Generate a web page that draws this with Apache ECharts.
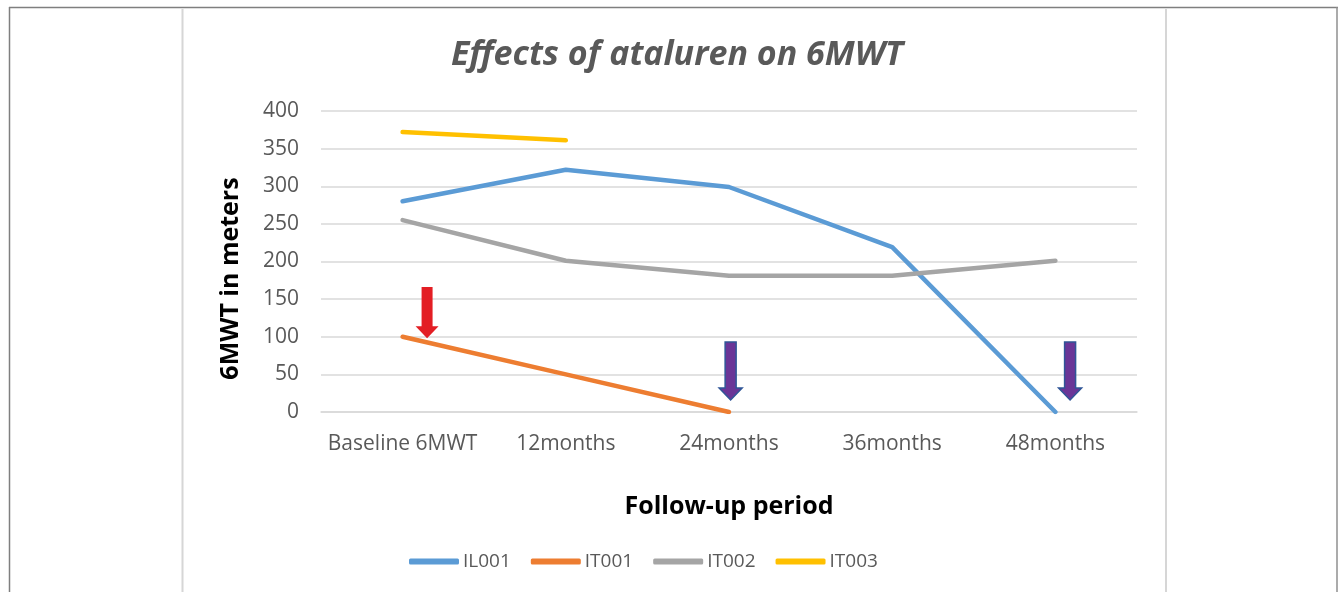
<!DOCTYPE html>
<html>
<head>
<meta charset="utf-8">
<title>Effects of ataluren on 6MWT</title>
<script src="https://cdn.jsdelivr.net/npm/echarts@6/dist/echarts.min.js"></script>
<style>
  html, body { margin: 0; padding: 0; background: #fff; }
  #chart { width: 1338px; height: 592px; }
</style>
</head>
<body>
<div id="chart"></div>
<script>
// data
const periods = ['Baseline 6MWT', '12months', '24months', '36months', '48months'];
const il001 = [280, 322, 299, 219, 0];
const it001 = [100, 50, 0, null, null];
const it002 = [255, 201, 181, 181, 201];
const it003 = [372, 361, null, null, null];
const seriesNames = ['IL001', 'IT001', 'IT002', 'IT003'];

// annotation arrows: [category index, tail value, tip value, shift within band]
const arrows = [
    [0, 166, 98, 0.15],
    [2, 93, 16, 0.01],
    [4, 93, 16, 0.09],
];
const arrowColors = ['#e31e24', '#6a3597', '#6a3597'];

const COLORS = ['#5b9bd5', '#ed7d31', '#a5a5a5', '#ffc000'];
const FONT = '"Open Sans", "DejaVu Sans", sans-serif';

const chart = echarts.init(document.getElementById('chart'), null, { renderer: 'canvas' });

function lineSeries(name, data, color) {
    return {
        type: 'line',
        name: name,
        data: data,
        symbol: 'none',
        connectNulls: false,
        lineStyle: { color: color, width: 4.5, cap: 'round', join: 'round' },
        itemStyle: { color: color },
        emphasis: { disabled: true },
        z: 3,
    };
}

function renderArrow(params, api) {
    const idx = api.value(0);
    const tail = api.coord([idx, api.value(1)]);
    const tip = api.coord([idx, api.value(2)]);
    const band = api.size([1, 0])[0];
    const x = tail[0] + api.value(3) * band;
    const shaft = 5.5, head = 11.5, headH = 12;
    const y0 = tail[1], y1 = tip[1], yh = y1 - headH;
    const color = arrowColors[params.dataIndex];
    return {
        type: 'polygon',
        shape: {
            points: [
                [x - shaft, y0], [x + shaft, y0], [x + shaft, yh], [x + head, yh],
                [x, y1], [x - head, yh], [x - shaft, yh],
            ],
        },
        style: {
            fill: color,
            stroke: params.dataIndex === 0 ? color : '#2f5597',
            lineWidth: params.dataIndex === 0 ? 0 : 1.5,
        },
        z2: 10,
    };
}

const frame = [
    { type: 'line', shape: { x1: 9, y1: 7.5, x2: 1338, y2: 7.5 }, style: { stroke: '#7f7f7f', lineWidth: 1.5 } },
    { type: 'line', shape: { x1: 9.5, y1: 7, x2: 9.5, y2: 592 }, style: { stroke: '#7f7f7f', lineWidth: 1.5 } },
    { type: 'line', shape: { x1: 1337, y1: 7, x2: 1337, y2: 592 }, style: { stroke: '#8f8f8f', lineWidth: 1.5 } },
    { type: 'line', shape: { x1: 182.5, y1: 9, x2: 182.5, y2: 592 }, style: { stroke: '#d6d6d6', lineWidth: 2 } },
    { type: 'line', shape: { x1: 1166, y1: 9, x2: 1166, y2: 592 }, style: { stroke: '#d6d6d6', lineWidth: 2 } },
];

const option = {
    backgroundColor: '#fff',
    animation: false,
    graphic: frame,
    title: {
        text: 'Effects of ataluren on 6MWT',
        left: 672,
        top: 33,
        textAlign: 'center',
        textStyle: {
            fontFamily: FONT,
            fontSize: 34,
            fontStyle: 'italic',
            fontWeight: 'bold',
            color: '#595959',
        },
    },
    legend: {
        data: seriesNames,
        bottom: 16,
        left: 404,
        icon: 'roundRect',
        itemWidth: 50,
        itemHeight: 6,
        itemGap: 20,
        textStyle: { fontFamily: FONT, fontSize: 19, color: '#595959', padding: [0, 0, 0, -1] },
    },
    grid: { left: 321, right: 201, top: 111, bottom: 180, containLabel: false },
    xAxis: {
        type: 'category',
        data: periods,
        boundaryGap: true,
        name: 'Follow-up period',
        nameLocation: 'middle',
        nameGap: 82,
        nameTextStyle: { fontFamily: FONT, fontSize: 25, fontWeight: 'bold', color: '#000' },
        axisLine: { lineStyle: { color: '#d9d9d9', width: 1.5 } },
        axisTick: { show: false },
        axisLabel: { interval: 0, fontFamily: FONT, fontSize: 21, color: '#595959', margin: 22 },
    },
    yAxis: {
        type: 'value',
        min: 0,
        max: 400,
        interval: 50,
        name: '6MWT in meters',
        nameLocation: 'middle',
        nameGap: 78,
        nameRotate: 90,
        nameTextStyle: { fontFamily: FONT, fontSize: 25, fontWeight: 'bold', color: '#000', padding: [0, 34, 0, 0] },
        axisLine: { show: false },
        axisTick: { show: false },
        axisLabel: { fontFamily: FONT, fontSize: 21, color: '#595959', margin: 22 },
        splitLine: { lineStyle: { color: '#d9d9d9', width: 1.5 } },
    },
    series: [
        lineSeries(seriesNames[0], il001, COLORS[0]),
        lineSeries(seriesNames[1], it001, COLORS[1]),
        lineSeries(seriesNames[2], it002, COLORS[2]),
        lineSeries(seriesNames[3], it003, COLORS[3]),
        {
            type: 'custom',
            name: 'arrows',
            data: arrows,
            renderItem: renderArrow,
            encode: { x: 0, y: [1, 2] },
            silent: true,
            z: 5,
        },
    ],
};

chart.setOption(option);
</script>
</body>
</html>
